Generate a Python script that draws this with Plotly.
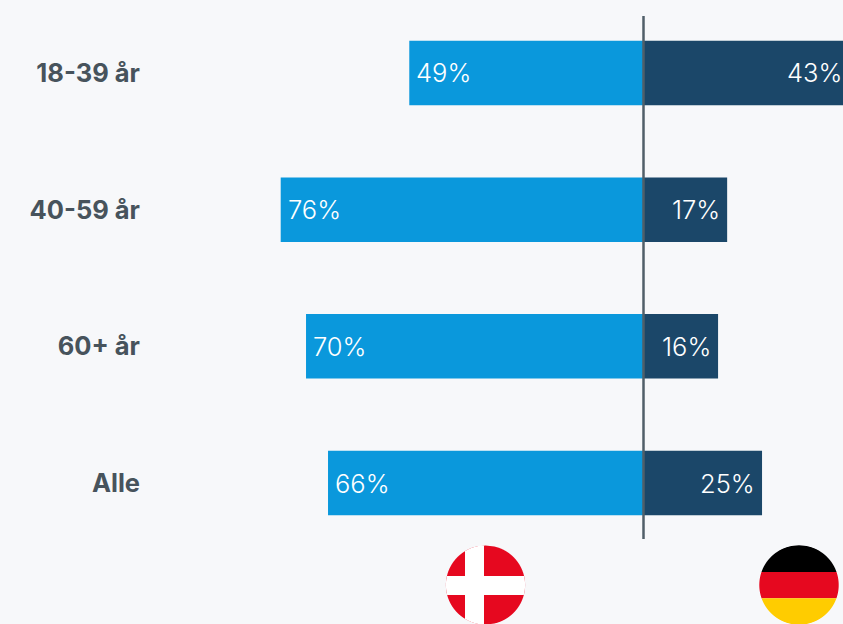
import numpy as np
import plotly.graph_objects as go

categories = ["18-39 år", "40-59 år", "60+ år", "Alle"]
denmark_bars = [49.0, 75.9, 70.6, 66.0]
germany_bars = [43.0, 17.5, 15.6, 24.8]
denmark_labels = ["49%", "76%", "70%", "66%"]
germany_labels = ["43%", "17%", "16%", "25%"]

W, H = 855, 624          # a little wider than the window: the 43% bar runs off the right edge
PX_PER_UNIT = 4.78
ZERO_PX = 643.5
LEFT_PX = 140
BG = "#f7f8fa"
FONT = "Inter"
RED, WHITE, BLACK, GOLD = "#e6081f", "#ffffff", "#000000", "#ffcc00"


def px(x):
    return x / W


def py(y):
    return 1 - y / H


def band(cx, cy, r, t0, t1, color, vertical=False):
    """Part of a circle between two offsets along one axis, as a filled path (page pixels)."""
    ts = np.linspace(t0, t1, 80)
    half = np.sqrt(np.maximum(r * r - ts * ts, 0))
    a = np.concatenate([ts, ts[::-1]])
    b = np.concatenate([half, -half[::-1]])
    xs, ys = (cx + b, cy + a) if not vertical else (cx + a, cy + b)
    d = "M" + "L".join(f"{px(x):.5f},{py(y):.5f}" for x, y in zip(xs, ys)) + "Z"
    return dict(type="path", path=d, xref="paper", yref="paper", fillcolor=color,
                line=dict(width=0), layer="above")


shapes = [dict(type="line", xref="paper", yref="paper", x0=px(ZERO_PX), x1=px(ZERO_PX),
               y0=py(539), y1=py(16), line=dict(color="#515f69", width=2.5), layer="above")]

# Danish flag
dk = (485.5, 585, 39.6)
shapes += [
    band(*dk, -39.6, 39.6, RED),
    band(*dk, 576 - dk[1], 595 - dk[1], WHITE),
    band(*dk, 465 - dk[0], 484 - dk[0], WHITE, vertical=True),
]
# German flag
de = (799, 585, 39.7)
shapes += [
    band(*de, -39.7, 572 - de[1], BLACK),
    band(*de, 572 - de[1], 598.3 - de[1], RED),
    band(*de, 598.3 - de[1], 39.7, GOLD),
]

fig = go.Figure()
fig.add_trace(go.Bar(y=categories, x=[-v for v in denmark_bars], orientation="h",
                     marker=dict(color="#0a98dc", line=dict(width=0)), hoverinfo="skip"))
fig.add_trace(go.Bar(y=categories, x=germany_bars, orientation="h",
                     marker=dict(color="#1b4769", line=dict(width=0)), hoverinfo="skip"))

label_font = dict(color="#ffffff", size=25.5, family=FONT, weight=300)
for c, v, t in zip(categories, denmark_bars, denmark_labels):
    fig.add_annotation(x=-v, y=c, xref="x", yref="y", text=t, showarrow=False,
                       xanchor="left", xshift=5, font=label_font)
for c, v, t in zip(categories, germany_bars, germany_labels):
    fig.add_annotation(x=v, y=c, xref="x", yref="y", text=t, showarrow=False,
                       xanchor="right", xshift=-5, font=label_font)

fig.update_layout(
    width=W, height=H, margin=dict(l=0, r=0, t=0, b=0),
    paper_bgcolor=BG, plot_bgcolor=BG,
    barmode="relative", bargap=0.528, showlegend=False,
    xaxis=dict(visible=False, domain=[px(LEFT_PX), 1],
               range=[-(ZERO_PX - LEFT_PX) / PX_PER_UNIT, (W - ZERO_PX) / PX_PER_UNIT]),
    yaxis=dict(autorange="reversed", showgrid=False, zeroline=False, showline=False,
               ticks="", ticklabelstandoff=-1, automargin=False,
               tickfont=dict(color="#47535c", size=25.5, family=FONT, weight=650),
               domain=[py(551.35), py(4.65)]),
    shapes=shapes,
)

fig.write_html(
    "out.html",
    config=dict(displayModeBar=False),
    post_script=f"document.documentElement.style.overflow='hidden';"
                f"document.documentElement.style.background='{BG}';"
                f"document.body.style.margin='0';document.body.style.overflow='hidden';",
)
